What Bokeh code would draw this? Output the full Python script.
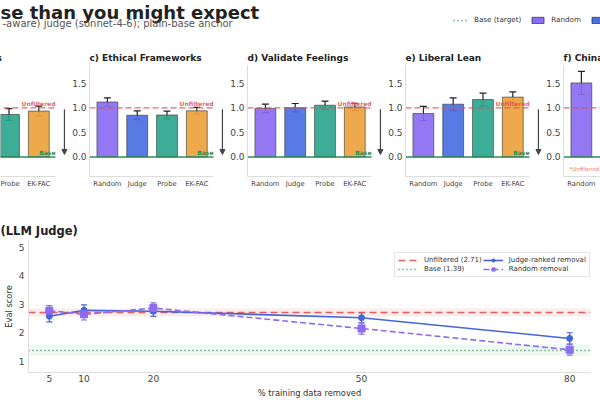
from bokeh.plotting import figure
from bokeh.layouts import column, row
from bokeh.models import (Range1d, ColumnDataSource, Whisker, TeeHead, Arrow, NormalHead,
                          Legend, LegendItem, FixedTicker, NumeralTickFormatter)
from bokeh.core.properties import value
from bokeh.embed import file_html
from bokeh.resources import INLINE

FONT = "DejaVu Sans"
NAN = float("nan")

# ---- bar panels: eval score relative to unfiltered (1.0) and base (0.0) ----
methods = ["Random", "Judge", "Probe", "EK-FAC"]
method_colors = ["#8b6cf2", "#4a6fe3", "#2ea68e", "#eca23c"]

b_methods = ["Probe", "EK-FAC"]
b_vals = [0.865, 0.935]
b_errs = [0.12, 0.10]

c_methods = ["Random", "Judge", "Probe", "EK-FAC"]
c_vals = [1.12, 0.85, 0.855, 0.94]
c_errs = [0.085, 0.09, 0.08, 0.07]

d_methods = ["Random", "Judge", "Probe", "EK-FAC"]
d_vals = [0.99, 1.005, 1.055, 1.02]
d_errs = [0.085, 0.085, 0.085, 0.075]

e_methods = ["Random", "Judge", "Probe", "EK-FAC"]
e_vals = [0.885, 1.075, 1.17, 1.22]
e_errs = [0.145, 0.13, 0.13, 0.105]

f_methods = ["Random", "Judge"]
f_vals = [1.51, 0.89]
f_errs = [0.235, 0.10]

unfiltered_rel = 1.0
base_rel = 0.0
y_ticks = [0.0, 0.5, 1.0, 1.5]

# ---- line panel: eval score vs % of training data removed ----
pct_removed = [5, 10, 20, 50, 80]
judge_scores = [2.58, 2.79, 2.76, 2.53, 1.80]
judge_errs = [0.20, 0.19, 0.18, 0.18, 0.20]
random_scores = [2.78, 2.65, 2.87, 2.15, 1.40]
random_errs = [0.18, 0.20, 0.18, 0.20, 0.19]
unfiltered_score = 2.71
unfiltered_band = 0.15
base_score = 1.39
base_band = 0.20

RED = "#e0504f"
GREEN = "#2e8b57"
AXIS_GREY = "#dddddd"
TICK_TEXT = "#444444"

# geometry of the bar panels (data units)
X_LO, X_AXIS_HI, X_FRAME_HI = -0.6, 3.56, 4.03
Y_LO, Y_HI = -0.4, 1.865
ARROW_X = 3.86


def style_common(p):
    p.xgrid.visible = False
    p.ygrid.visible = False
    p.outline_line_color = None
    p.background_fill_color = "white"
    p.border_fill_color = "white"


def style_axis(ax, size):
    ax.axis_line_color = AXIS_GREY
    ax.major_tick_line_color = None
    ax.minor_tick_line_color = None
    ax.major_tick_out = 0
    ax.major_tick_in = 0
    ax.minor_tick_out = 0
    ax.minor_tick_in = 0
    ax.major_label_text_font = FONT
    ax.major_label_text_font_size = size
    ax.major_label_text_color = TICK_TEXT


def bar_panel(title, cats, vals, errs, width, x_start, x_end, show_y, arrow=True, note=None):
    p = figure(width=width, height=155, x_range=Range1d(x_start, x_end),
               y_range=Range1d(Y_LO, Y_HI), output_backend="svg", toolbar_location=None,
               y_axis_location="left" if show_y else None,
               min_border_left=20 if show_y else 0, min_border_right=0,
               min_border_top=20, min_border_bottom=24)
    p.frame_align = False
    style_common(p)
    idx = [methods.index(c) for c in cats]
    src = ColumnDataSource(dict(
        x=idx, top=vals,
        lo=[v - e for v, e in zip(vals, errs)],
        hi=[v + e for v, e in zip(vals, errs)],
        color=[method_colors[i] for i in idx]))
    p.vbar(x="x", top="top", bottom=0, width=0.7, source=src, fill_color="color",
           fill_alpha=0.92, line_color="#333333", line_alpha=0.75, line_width=0.8)
    p.add_layout(Whisker(source=src, base="x", upper="hi", lower="lo",
                         line_color="#222222", line_width=1.2,
                         upper_head=TeeHead(size=7, line_color="#222222", line_width=1.2),
                         lower_head=TeeHead(size=7, line_color="#222222", line_width=1.2)))
    # reference levels
    p.segment(x0=[X_LO], x1=[X_AXIS_HI], y0=[unfiltered_rel], y1=[unfiltered_rel],
              line_color=RED, line_dash="6 3", line_width=1.4, line_alpha=0.85)
    p.segment(x0=[X_LO], x1=[X_AXIS_HI], y0=[base_rel], y1=[base_rel],
              line_color=GREEN, line_width=1.5)
    p.text(x=[X_AXIS_HI], y=[unfiltered_rel + 0.02], text=["Unfiltered"], text_align="right",
           text_baseline="bottom", text_color=RED, text_font=value(FONT),
           text_font_size="6px", text_font_style="bold", text_alpha=0.9)
    p.text(x=[X_AXIS_HI], y=[base_rel + 0.02], text=["Base"], text_align="right",
           text_baseline="bottom", text_color=GREEN, text_font=value(FONT),
           text_font_size="6px", text_font_style="bold")
    if note:
        p.text(x=[-0.4], y=[-0.25], text=[note], text_align="left", text_baseline="middle",
               text_color=RED, text_font=value(FONT), text_font_size="5.5px", text_alpha=0.85)
    if arrow:
        p.add_layout(Arrow(end=NormalHead(size=5, fill_color="#444444", line_color="#444444"),
                           x_start=ARROW_X, y_start=0.97, x_end=ARROW_X, y_end=0.05,
                           line_color="#444444", line_width=1.2))
    p.xaxis.ticker = FixedTicker(ticks=idx)
    p.xaxis.major_label_overrides = {i: methods[i] for i in idx}
    p.xaxis.bounds = (X_LO, X_AXIS_HI)
    style_axis(p.xaxis, "6.8px")
    p.xaxis.major_label_standoff = 3
    if show_y:
        p.yaxis.ticker = FixedTicker(ticks=y_ticks)
        p.yaxis.formatter = NumeralTickFormatter(format="0.0")
        style_axis(p.yaxis, "9px")
        p.yaxis.major_label_standoff = 3
    p.title.text = title
    p.title.align = "left"
    p.title.text_font = FONT
    p.title.text_font_size = "9px"
    p.title.text_font_style = "bold"
    p.title.text_color = "#222222"
    p.title.standoff = 5
    p.title.offset = 0
    return p


pb = bar_panel("s", b_methods, b_vals, b_errs, 69, X_LO + 69 / 29.8, X_FRAME_HI, False)
pb.title.offset = -4
pc = bar_panel("c) Ethical Frameworks", c_methods, c_vals, c_errs, 158, X_LO, X_FRAME_HI, True)
pd = bar_panel("d) Validate Feelings", d_methods, d_vals, d_errs, 158, X_LO, X_FRAME_HI, True)
pe = bar_panel("e) Liberal Lean", e_methods, e_vals, e_errs, 158, X_LO, X_FRAME_HI, True)
pf = bar_panel("f) China", f_methods, f_vals, f_errs, 57, X_LO, X_LO + 37 / 29.8, True,
               arrow=False, note="*Unfiltered = 1.0")

# ---- header: title, subtitle and shared legend ----
hdr = figure(width=600, height=45, x_range=Range1d(0, 600), y_range=Range1d(45, 0),
             output_backend="svg", toolbar_location=None, x_axis_location=None,
             y_axis_location=None, title=None, min_border=0, min_border_top=0,
             min_border_bottom=0, min_border_left=0, min_border_right=0)
hdr.frame_align = False
style_common(hdr)
hdr.text(x=[0], y=[11.5], text=["se than you might expect"], text_font=value(FONT),
         text_font_size="18px", text_font_style="bold", text_color="#222222",
         text_baseline="alphabetic")
hdr.text(x=[2], y=[22.5], text=["-aware) judge (sonnet-4-6); plain-base anchor"],
         text_font=value(FONT), text_font_size="10px", text_color="#555555",
         text_baseline="alphabetic")
# legend proxies (one placeholder row each, nothing drawn in the frame)
r_base = hdr.line(x=[NAN], y=[NAN], line_color=GREEN, line_dash="1 3", line_width=1.5)
hdr_items = [LegendItem(label="Base (target)", renderers=[r_base])]
for m, c in zip(methods, method_colors):
    r = hdr.vbar(x=[NAN], top=[NAN], width=1, fill_color=c, line_color="#333333",
                 line_alpha=0.75)
    hdr_items.append(LegendItem(label=m, renderers=[r]))
hdr_leg = Legend(items=hdr_items, orientation="horizontal", location=(453, 21),
                 label_text_font=FONT, label_text_font_size="7.2px", label_text_color="#333333",
                 glyph_width=15, glyph_height=8, label_height=8, label_standoff=6,
                 spacing=9, padding=2, margin=0, border_line_color=None,
                 background_fill_alpha=0)
hdr.add_layout(hdr_leg)

# ---- bottom: removal sweep ----
pl = figure(width=600, height=200, x_range=Range1d(2, 83), y_range=Range1d(0.6, 5.25),
            output_backend="svg", toolbar_location=None,
            min_border_left=28, min_border_right=10, min_border_top=40, min_border_bottom=27)
pl.frame_align = False
style_common(pl)
pl.hstrip(y0=[unfiltered_score - unfiltered_band], y1=[unfiltered_score + unfiltered_band],
          fill_color="#f08080", fill_alpha=0.15, line_color=None)
pl.hstrip(y0=[base_score - base_band], y1=[base_score + base_band],
          fill_color="#7fcf9a", fill_alpha=0.15, line_color=None)
r_unf = pl.hspan(y=[unfiltered_score], line_color=RED, line_dash="7 4", line_width=1.5,
                 line_alpha=0.9)
r_bas = pl.hspan(y=[base_score], line_color=GREEN, line_dash="1 3", line_width=1.5)

JUDGE_C = "#4466dd"
RANDOM_C = "#8c6cf0"
jsrc = ColumnDataSource(dict(x=pct_removed, y=judge_scores,
                             lo=[v - e for v, e in zip(judge_scores, judge_errs)],
                             hi=[v + e for v, e in zip(judge_scores, judge_errs)]))
rsrc = ColumnDataSource(dict(x=pct_removed, y=random_scores,
                             lo=[v - e for v, e in zip(random_scores, random_errs)],
                             hi=[v + e for v, e in zip(random_scores, random_errs)]))
for src, col in ((jsrc, JUDGE_C), (rsrc, RANDOM_C)):
    pl.add_layout(Whisker(source=src, base="x", upper="hi", lower="lo",
                          line_color=col, line_width=1.2,
                          upper_head=TeeHead(size=6, line_color=col, line_width=1.2),
                          lower_head=TeeHead(size=6, line_color=col, line_width=1.2)))
rj_line = pl.line("x", "y", source=jsrc, line_color=JUDGE_C, line_width=1.6)
rj_mark = pl.scatter("x", "y", source=jsrc, marker="circle", size=6,
                     fill_color=JUDGE_C, line_color=JUDGE_C)
rr_line = pl.line("x", "y", source=rsrc, line_color=RANDOM_C, line_width=1.6, line_dash="6 3")
rr_mark = pl.scatter("x", "y", source=rsrc, marker="square", size=7,
                     fill_color=RANDOM_C, line_color=RANDOM_C)

leg = Legend(items=[
    LegendItem(label=f"Unfiltered ({unfiltered_score:.2f})", renderers=[r_unf]),
    LegendItem(label=f"Base ({base_score:.2f})", renderers=[r_bas]),
    LegendItem(label="Judge-ranked removal", renderers=[rj_line, rj_mark]),
    LegendItem(label="Random removal", renderers=[rr_line, rr_mark]),
], ncols=2, location=(366, 95), label_text_font=FONT, label_text_font_size="7px",
    label_text_color="#333333", glyph_width=20, glyph_height=8, label_height=8,
    label_standoff=6, spacing=1, padding=3, margin=0,
    border_line_color="#cccccc", border_line_width=1, background_fill_alpha=0.9)
pl.add_layout(leg)

pl.xaxis.ticker = FixedTicker(ticks=pct_removed)
pl.yaxis.ticker = FixedTicker(ticks=[1, 2, 3, 4, 5])
for ax in (pl.xaxis, pl.yaxis):
    style_axis(ax, "9px")
    ax.axis_label_text_font = FONT
    ax.axis_label_text_font_size = "8.3px"
    ax.axis_label_text_font_style = "normal"
    ax.axis_label_text_color = "#333333"
pl.xaxis.major_label_standoff = 2
pl.yaxis.major_label_standoff = 4
pl.xaxis.axis_label = "% training data removed"
pl.yaxis.axis_label = "Eval score"
pl.xaxis.axis_label_standoff = 3
pl.yaxis.axis_label_standoff = 2
pl.title.text = "(LLM Judge)"
pl.title.align = "left"
pl.title.text_font = FONT
pl.title.text_font_size = "11.5px"
pl.title.text_font_style = "bold"
pl.title.text_color = "#222222"
pl.title.standoff = 5
pl.title.offset = -28

layout = column(hdr, row(pb, pc, pd, pe, pf, spacing=0), pl, spacing=0)
open("out.html", "w").write(file_html(layout, INLINE))
